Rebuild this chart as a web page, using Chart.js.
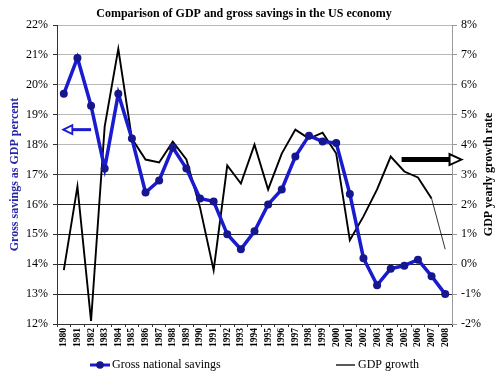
<!DOCTYPE html>
<html><head><meta charset="utf-8">
<script src="https://cdn.jsdelivr.net/npm/chart.js@4"></script>
<style>html,body{margin:0;padding:0;background:#fff;overflow:hidden}</style>
</head><body>
<canvas id="c" width="500" height="381"></canvas>
<script>
const years = ['1980','1981','1982','1983','1984','1985','1986','1987','1988','1989','1990','1991','1992','1993','1994','1995','1996','1997','1998','1999','2000','2001','2002','2003','2004','2005','2006','2007','2008'];
const savings = [19.7,20.9,19.3,17.2,19.7,18.2,16.4,16.8,17.9,17.2,16.2,16.1,15.0,14.5,15.1,16.0,16.5,17.6,18.3,18.1,18.05,16.35,14.2,13.3,13.85,13.95,14.15,13.6,13.0];
const gdpGrowth = [-0.2,2.6,-1.9,4.6,7.2,4.2,3.5,3.4,4.1,3.5,1.9,-0.2,3.3,2.7,4.0,2.5,3.7,4.5,4.2,4.4,3.7,0.8,1.6,2.5,3.6,3.1,2.9,2.2,0.5];
const seriesNames = ['Gross national savings','GDP growth'];
const titleText = 'Comparison of GDP and gross savings in the US economy';
const leftTitle = 'Gross savings as GDP percent';
const rightTitle = 'GDP yearly growth rate';

const SERIF = '"Liberation Serif", "Times New Roman", serif';
const BLUE = '#1a1acf';
const NAVY = '#16168f';

const decor = {
  id: 'decor',
  afterDraw(chart) {
    const ctx = chart.ctx;
    const x = chart.scales.x, y = chart.scales.y, y1 = chart.scales.y1;
    const area = chart.chartArea;
    ctx.save();
    // chart title
    ctx.fillStyle = '#000';
    ctx.font = 'bold 12px ' + SERIF;
    ctx.textAlign = 'center'; ctx.textBaseline = 'middle';
    ctx.fillText(titleText, 244, 13.5);
    // left arrow (savings -> left axis)
    let ay = y.getPixelForValue(18.5);
    let tip = x.getPixelForValue(0) - 0.5, tail = x.getPixelForValue(2);
    ctx.strokeStyle = BLUE; ctx.lineWidth = 3;
    ctx.beginPath(); ctx.moveTo(tip + 8, ay); ctx.lineTo(tail, ay); ctx.stroke();
    ctx.lineWidth = 1.8; ctx.fillStyle = '#fff';
    ctx.beginPath(); ctx.moveTo(tip, ay); ctx.lineTo(tip + 9, ay - 4.5); ctx.lineTo(tip + 9, ay + 4.5); ctx.closePath(); ctx.fill(); ctx.stroke();
    // right arrow (gdp -> right axis)
    ay = y1.getPixelForValue(3.5);
    tail = x.getPixelForValue(24.8); tip = x.getPixelForValue(29.2);
    ctx.strokeStyle = '#000'; ctx.lineWidth = 5;
    ctx.beginPath(); ctx.moveTo(tail, ay); ctx.lineTo(tip - 12, ay); ctx.stroke();
    ctx.lineWidth = 2; ctx.fillStyle = '#fff';
    ctx.beginPath(); ctx.moveTo(tip, ay); ctx.lineTo(tip - 12, ay - 5.5); ctx.lineTo(tip - 12, ay + 5.5); ctx.closePath(); ctx.fill(); ctx.stroke();
    // right axis title (reads bottom to top)
    ctx.fillStyle = '#000';
    ctx.font = 'bold 12px ' + SERIF;
    ctx.textAlign = 'center'; ctx.textBaseline = 'middle';
    ctx.translate(489, (area.top + area.bottom) / 2);
    ctx.rotate(-Math.PI / 2);
    ctx.fillText(rightTitle, 0, 0);
    ctx.restore();
    // legend
    ctx.save();
    const ly = 365;
    ctx.strokeStyle = BLUE; ctx.lineWidth = 3;
    ctx.beginPath(); ctx.moveTo(90, ly); ctx.lineTo(110, ly); ctx.stroke();
    ctx.fillStyle = NAVY; ctx.beginPath(); ctx.arc(100, ly, 3.8, 0, Math.PI * 2); ctx.fill();
    ctx.fillStyle = '#000';
    ctx.font = '12px ' + SERIF; ctx.textAlign = 'left'; ctx.textBaseline = 'middle';
    ctx.fillText(seriesNames[0], 112, ly);
    ctx.strokeStyle = '#000'; ctx.lineWidth = 1.3;
    ctx.beginPath(); ctx.moveTo(336, ly); ctx.lineTo(355, ly); ctx.stroke();
    ctx.fillText(seriesNames[1], 358, ly);
    ctx.restore();
  }
};

new Chart(document.getElementById('c'), {
  type: 'line',
  data: {
    labels: years,
    datasets: [
      {
        label: seriesNames[0], data: savings, yAxisID: 'y',
        borderColor: BLUE, borderWidth: 3.5, tension: 0,
        pointRadius: 4, pointBackgroundColor: NAVY, pointBorderColor: NAVY, pointBorderWidth: 0
      },
      {
        label: seriesNames[1], data: gdpGrowth, yAxisID: 'y1',
        borderColor: '#000', borderWidth: 1.9, tension: 0, pointRadius: 0,
        segment: { borderWidth: c => c.p1DataIndex === years.length - 1 ? 0.8 : 1.9 }
      }
    ]
  },
  options: {
    responsive: false, animation: false, devicePixelRatio: 1,
    layout: { padding: { top: 25, bottom: 25, left: 0, right: 0 } },
    plugins: {
      legend: { display: false },
      tooltip: { enabled: false },
      title: { display: false }
    },
    scales: {
      x: {
        type: 'category', offset: true,
        grid: { offset: true, drawOnChartArea: false, tickLength: 3, color: '#333' },
        border: { color: '#333' },
        ticks: { minRotation: 90, maxRotation: 90, autoSkip: false, color: '#000', padding: 1, font: { family: SERIF, size: 9.5, weight: 'bold' } },
        afterFit: s => { s.height = 32; }
      },
      y: {
        position: 'left', min: 12, max: 22,
        ticks: { stepSize: 1, color: '#000', padding: 5, font: { family: SERIF, size: 12 }, callback: v => v + '%' },
        grid: { color: c => c.tick && c.tick.value >= 18 ? '#b8b8b8' : (c.tick && c.tick.value >= 17 ? '#555' : '#222'), tickLength: 4, tickColor: '#333' },
        border: { color: '#333' },
        title: { display: true, text: leftTitle, color: '#2626a6', font: { family: SERIF, size: 12, weight: 'bold' }, padding: { top: 8, bottom: 0 } },
        afterFit: s => { s.width = 57; }
      },
      y1: {
        position: 'right', min: -2, max: 8,
        ticks: { stepSize: 1, color: '#000', padding: 4, font: { family: SERIF, size: 12 }, callback: v => v + '%' },
        grid: { drawOnChartArea: false, color: '#999', tickLength: 5 },
        border: { color: '#999' },
        afterFit: s => { s.width = 48; }
      }
    }
  },
  plugins: [decor]
});
</script>
</body></html>
